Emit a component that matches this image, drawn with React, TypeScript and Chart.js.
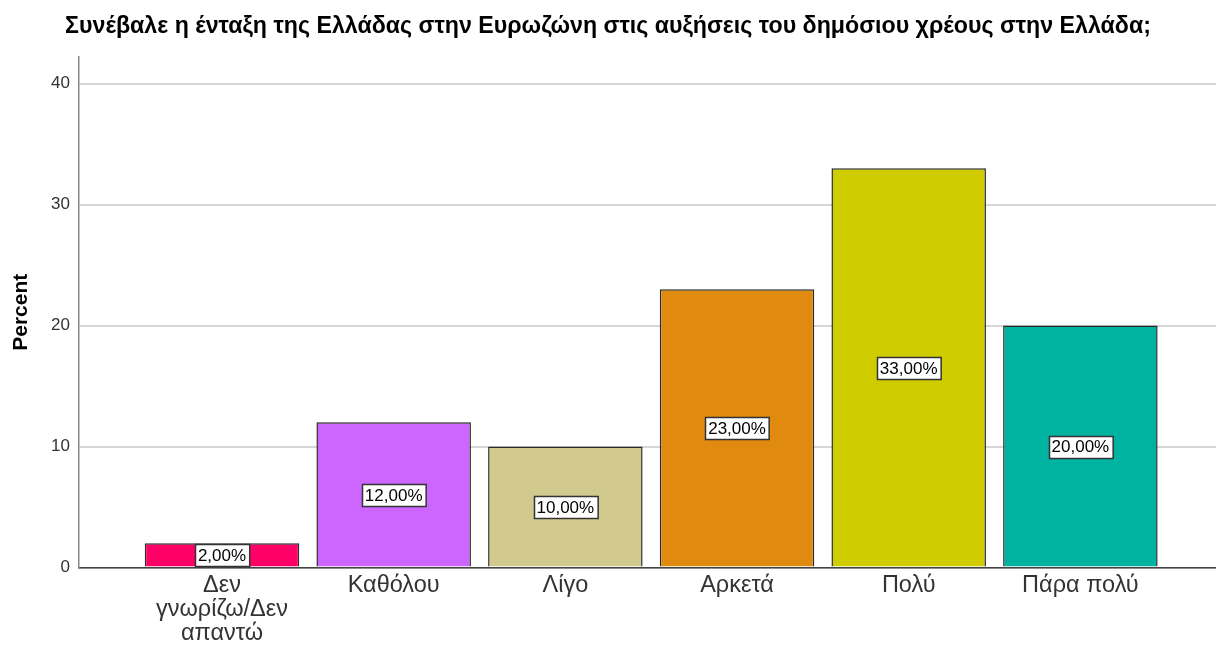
import React, { useEffect, useRef } from "react";
import { Chart, registerables } from "chart.js";

Chart.register(...registerables);

const TITLE = "Συνέβαλε η ένταξη της Ελλάδας στην Ευρωζώνη στις αυξήσεις του δημόσιου χρέους στην Ελλάδα;";
const categories: string[][] = [
  ["Δεν", "γνωρίζω/Δεν", "απαντώ"],
  ["Καθόλου"],
  ["Λίγο"],
  ["Αρκετά"],
  ["Πολύ"],
  ["Πάρα πολύ"],
];
const percentValues: number[] = [2, 12, 10, 23, 33, 20];
const barColors: string[] = ["#FF0066", "#CC66FF", "#D1C98E", "#E08A10", "#CFCC00", "#00B3A0"];
const yTicks: number[] = [0, 10, 20, 30, 40];
const yTitle = "Percent";

const FONT = "'Liberation Sans', Arial, sans-serif";

export default function App() {
  const ref = useRef<HTMLCanvasElement | null>(null);

  useEffect(() => {
    if (!ref.current) return;
    const points = percentValues.map((v, i) => ({ x: i + 1, y: v }));

    const overlay = {
      id: "overlay",
      afterDraw(chart: any) {
        const ctx = chart.ctx;
        ctx.save();
        // title
        ctx.font = `bold 23.2px ${FONT}`;
        ctx.fillStyle = "#000";
        ctx.textAlign = "center";
        ctx.textBaseline = "middle";
        ctx.fillText(TITLE, 608, 27);
        // data labels
        const meta = chart.getDatasetMeta(0);
        const yScale = chart.scales.y;
        ctx.font = `17px ${FONT}`;
        meta.data.forEach((el: any, i: number) => {
          const v = percentValues[i];
          const txt = v.toFixed(2).replace(".", ",") + "%";
          const cx = el.x;
          const cy = yScale.getPixelForValue(v / 2);
          const w = ctx.measureText(txt).width + 6;
          const h = 22;
          const x0 = Math.round(cx - w / 2) + 0.5;
          const y0 = Math.round(cy - h / 2) + 0.5;
          ctx.fillStyle = "#fff";
          ctx.fillRect(x0, y0, w, h);
          ctx.strokeStyle = "#333";
          ctx.lineWidth = 1.5;
          ctx.strokeRect(x0, y0, w, h);
          ctx.fillStyle = "#000";
          ctx.textAlign = "center";
          ctx.textBaseline = "middle";
          ctx.fillText(txt, cx, cy + 1);
        });
        ctx.restore();
      },
    };

    const chart = new Chart(ref.current, {
      type: "bar",
      data: {
        datasets: [
          {
            data: points as any,
            backgroundColor: barColors,
            borderColor: "#2a2a2a",
            borderWidth: 1.5,
            barPercentage: 0.9,
            categoryPercentage: 1,
          },
        ],
      },
      options: {
        animation: false,
        responsive: false,
        maintainAspectRatio: false,
        layout: { padding: { top: 57, left: 0, right: 0, bottom: 0 } },
        plugins: {
          legend: { display: false },
          tooltip: { enabled: false },
          title: { display: false },
        },
        scales: {
          x: {
            type: "linear",
            offset: false,
            min: 1 - 0.833,
            max: 6 + 0.79,
            afterBuildTicks(scale: any) {
              scale.ticks = categories.map((_, i) => ({ value: i + 1 }));
            },
            afterFit(scale: any) {
              scale.height = 646 - 567.5;
            },
            ticks: {
              autoSkip: false,
              maxRotation: 0,
              padding: 6,
              color: "#333",
              font: { family: FONT, size: 23.5, lineHeight: 1.02 },
              callback: (v: any) => categories[Math.round(v) - 1] ?? "",
            },
            grid: { display: false, drawTicks: false, offset: false },
            border: { display: true, color: "#444", width: 1.5 },
          },
          y: {
            min: 0,
            max: 42.2,
            afterBuildTicks(scale: any) {
              scale.ticks = yTicks.map((v) => ({ value: v }));
            },
            afterFit(scale: any) {
              scale.width = 79;
            },
            ticks: {
              color: "#333",
              padding: 9,
              font: { family: FONT, size: 17 },
            },
            grid: { color: "#d6d6d6", lineWidth: 2, drawTicks: false },
            border: { display: true, color: "#888", width: 1.5 },
            title: {
              display: true,
              text: yTitle,
              color: "#000",
              font: { family: FONT, size: 21, weight: "bold" },
              padding: { top: 9, bottom: 0 },
            },
          },
        },
      },
      plugins: [overlay],
    });
    return () => chart.destroy();
  }, []);

  return (
    <div style={{ position: "absolute", left: 0, top: 0, width: 1216, height: 646, background: "#fff" }}>
      <canvas ref={ref} width={1216} height={646} style={{ width: 1216, height: 646 }} />
    </div>
  );
}
